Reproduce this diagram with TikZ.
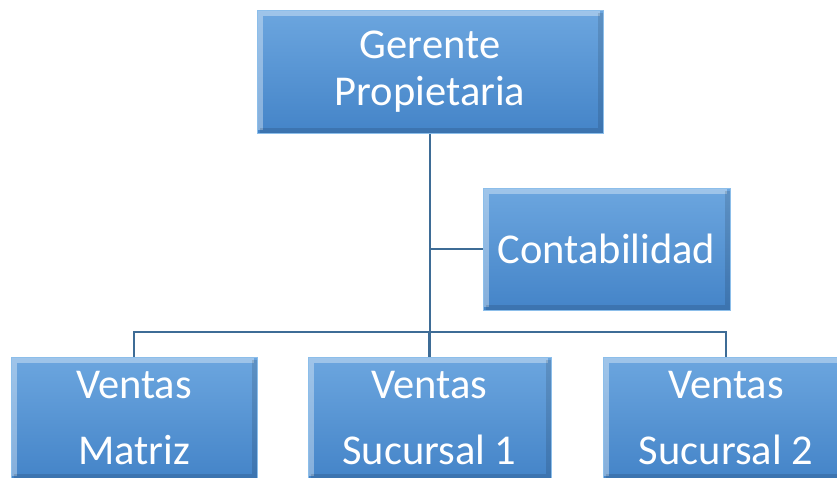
\documentclass[tikz,border=0pt]{standalone}
\usepackage{fontspec}
\setmainfont{Carlito}
\usepackage{xcolor}
\usetikzlibrary{calc}

\definecolor{azulclaro}{RGB}{108,166,223}
\definecolor{azuloscuro}{RGB}{68,132,200}
\definecolor{azulborde}{RGB}{140,190,234}
\definecolor{linea}{RGB}{62,108,150}

\tikzset{
  bloque/.style={rectangle,inner sep=0pt,top color=azulclaro,bottom color=azuloscuro,
    draw=azulborde,line width=1pt,text=white,align=center,
    path picture={
      \draw[white,opacity=0.35,line width=6pt]
        ([xshift=3pt,yshift=3pt]path picture bounding box.south west)
        -- ([xshift=3pt,yshift=-3pt]path picture bounding box.north west)
        -- ([xshift=-3pt,yshift=-3pt]path picture bounding box.north east);
      \draw[black,opacity=0.12,line width=5pt]
        ([xshift=-2.5pt,yshift=-3pt]path picture bounding box.north east)
        -- ([xshift=-2.5pt,yshift=2.5pt]path picture bounding box.south east)
        -- ([xshift=3pt,yshift=2.5pt]path picture bounding box.south west);
    }},
  conector/.style={draw=linea,line width=2.8pt}
}

\begin{document}
\begin{tikzpicture}[x=1pt,y=-1pt]
            \useasboundingbox (0,0) rectangle (837,477);
            \clip (0,0) rectangle (837,477);

            \node (gerente) at (430,71.5) [bloque,minimum width=346pt,minimum height=123pt,font=\fontsize{42.5}{47}\selectfont] {Gerente\\Propietaria};
            \node (contab) at (606.5,249) [bloque,minimum width=247pt,minimum height=122pt,font=\fontsize{42.5}{47}\selectfont] {Contabilidad};
            \node (matriz) at (134,418) [bloque,minimum width=246pt,minimum height=122pt,font=\fontsize{42.5}{66}\selectfont] {Ventas\\Matriz};
            \node (suc1) at (429.5,418) [bloque,minimum width=243pt,minimum height=122pt,font=\fontsize{42.5}{66}\selectfont] {Ventas\\Sucursal 1};
            \node (suc2) at (726,418) [bloque,minimum width=246pt,minimum height=122pt,font=\fontsize{42.5}{66}\selectfont] {Ventas\\Sucursal 2};

            \coordinate (bus) at (430,332);

            \draw[conector] (gerente.south) -- (gerente.south |- bus) (gerente.south |- contab.west) -- (contab.west);
            \draw[conector] (matriz.north) -- (matriz.north |- bus) -- (suc2.north |- bus) -- (suc2.north) (suc1.north |- bus) -- (suc1.north);

        \end{tikzpicture}
\end{document}
